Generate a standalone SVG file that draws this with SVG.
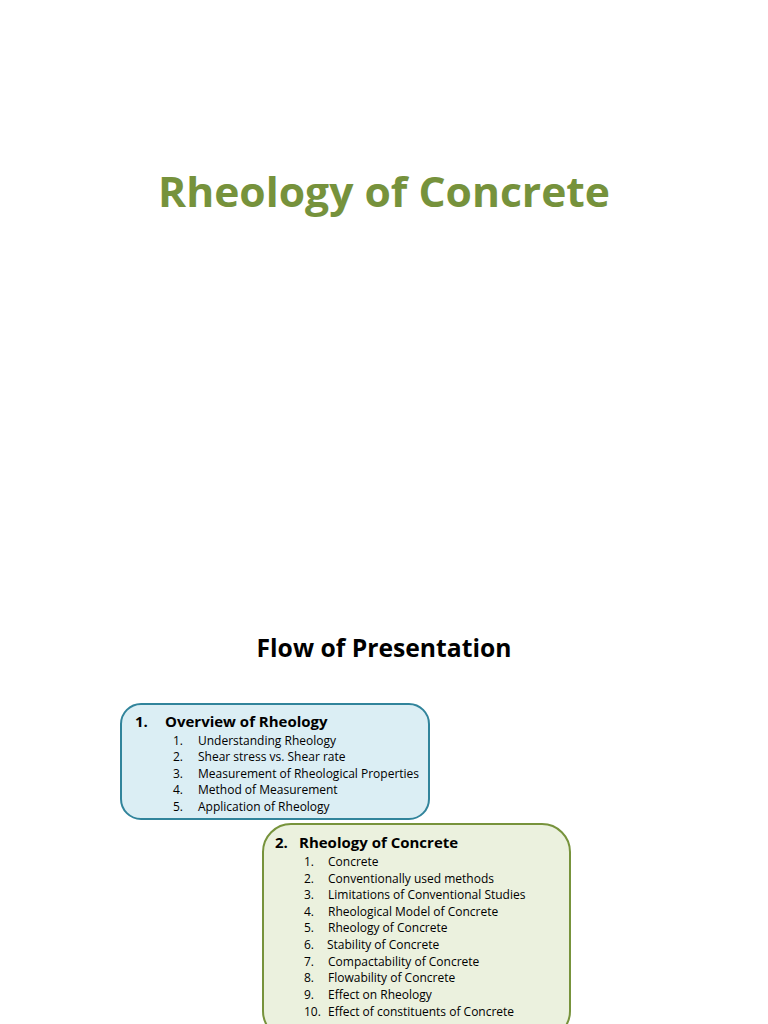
<svg xmlns="http://www.w3.org/2000/svg" width="768" height="1024" viewBox="0 0 768 1024">
<style>
text{font-family:"Open Sans","Liberation Sans",sans-serif;fill:#000}
.h{font-size:15px;font-weight:bold}
.i{font-size:12px}
</style>
<rect width="768" height="1024" fill="#fff"/>
<text x="384" y="207" text-anchor="middle" font-size="42" font-weight="bold" style="fill:#76923c" textLength="452" lengthAdjust="spacingAndGlyphs">Rheology of Concrete</text>
<text x="384" y="657" text-anchor="middle" font-size="25" font-weight="bold" textLength="255" lengthAdjust="spacingAndGlyphs">Flow of Presentation</text>
<g id="box1">
<rect x="121" y="704" width="308" height="115" rx="20" fill="#dbeef4" stroke="#31849b" stroke-width="2"/>
<text class="h" x="135" y="727">1.</text><text class="h" x="165" y="727">Overview of Rheology</text>
<g class="i">
<text class="i" x="173" y="745">1.</text><text class="i" x="198" y="745">Understanding Rheology</text>
<text class="i" x="173" y="761">2.</text><text class="i" x="198" y="761">Shear stress vs. Shear rate</text>
<text class="i" x="173" y="778">3.</text><text class="i" x="198" y="778">Measurement of Rheological Properties</text>
<text class="i" x="173" y="794">4.</text><text class="i" x="198" y="794">Method of Measurement</text>
<text class="i" x="173" y="811">5.</text><text class="i" x="198" y="811">Application of Rheology</text>
</g>
</g>
<g id="box2">
<rect x="263" y="824" width="307" height="215" rx="28" fill="#ebf1de" stroke="#77933c" stroke-width="2"/>
<text class="h" x="275" y="848">2.</text><text class="h" x="299" y="848">Rheology of Concrete</text>
<text class="i" x="304" y="866">1.</text><text class="i" x="328" y="866">Concrete</text>
<text class="i" x="304" y="883">2.</text><text class="i" x="328" y="883">Conventionally used methods</text>
<text class="i" x="304" y="899">3.</text><text class="i" x="328" y="899">Limitations of Conventional Studies</text>
<text class="i" x="304" y="916">4.</text><text class="i" x="328" y="916">Rheological Model of Concrete</text>
<text class="i" x="304" y="932">5.</text><text class="i" x="328" y="932">Rheology of Concrete</text>
<text class="i" x="304" y="949">6.</text><text class="i" x="327" y="949">Stability of Concrete</text>
<text class="i" x="304" y="966">7.</text><text class="i" x="328" y="966">Compactability of Concrete</text>
<text class="i" x="304" y="982">8.</text><text class="i" x="328" y="982">Flowability of Concrete</text>
<text class="i" x="304" y="999">9.</text><text class="i" x="328" y="999">Effect on Rheology</text>
<text class="i" x="304" y="1016">10.</text><text class="i" x="328" y="1016">Effect of constituents of Concrete</text>
</g>
</svg>
